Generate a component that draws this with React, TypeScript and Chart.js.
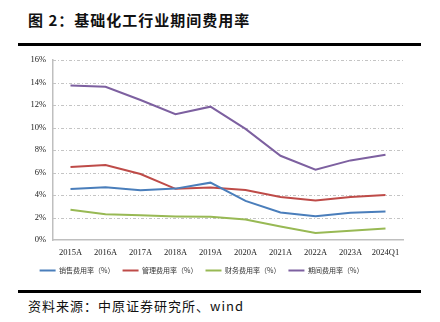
import React, { useEffect, useRef } from "react";
import { Chart, registerables } from "chart.js";

Chart.register(...registerables);

const categories = ["2015A", "2016A", "2017A", "2018A", "2019A", "2020A", "2021A", "2022A", "2023A", "2024Q1"];
const salesRate = [4.54, 4.69, 4.42, 4.57, 5.1, 3.48, 2.45, 2.12, 2.42, 2.54];
const adminRate = [6.49, 6.67, 5.87, 4.55, 4.66, 4.45, 3.83, 3.51, 3.83, 4.01];
const financeRate = [2.68, 2.3, 2.2, 2.1, 2.06, 1.83, 1.21, 0.62, 0.82, 1.03];
const periodRate = [13.74, 13.63, 12.45, 11.18, 11.86, 9.88, 7.49, 6.25, 7.08, 7.58];
const seriesNames = ["销售费用率（%）", "管理费用率（%）", "财务费用率（%）", "期间费用率（%）"];
const seriesColors = ["#4A7EBB", "#BE4B48", "#98B954", "#7D60A0"];

const title = "图 2：基础化工行业期间费用率";
const source = "资料来源：中原证券研究所、wind";

const dashedGrid = {
  id: "dashedGrid",
  beforeDatasetsDraw(chart: any) {
    const { ctx, chartArea, scales } = chart;
    const y = scales.y;
    ctx.save();
    ctx.strokeStyle = "#C4C4C4";
    ctx.lineWidth = 1;
    ctx.setLineDash([3, 2, 1, 2]);
    y.ticks.forEach((t: any) => {
      if (t.value === 0) return;
      const py = Math.round(y.getPixelForValue(t.value)) + 0.5;
      ctx.beginPath();
      ctx.moveTo(chartArea.left, py);
      ctx.lineTo(chartArea.right, py);
      ctx.stroke();
    });
    ctx.restore();
  },
};

export default function App() {
  const ref = useRef<HTMLCanvasElement | null>(null);

  useEffect(() => {
    if (!ref.current) return;
    const data = [salesRate, adminRate, financeRate, periodRate];
    const chart = new Chart(ref.current, {
      type: "line",
      data: {
        labels: categories,
        datasets: data.map((d, i) => ({
          label: seriesNames[i],
          data: d,
          borderColor: seriesColors[i],
          backgroundColor: seriesColors[i],
          borderWidth: 2,
          pointRadius: 0,
          tension: 0,
          fill: false,
        })),
      },
      options: {
        animation: false,
        responsive: false,
        maintainAspectRatio: false,
        layout: { padding: { left: 0, right: 37, top: 11, bottom: 4 } },
        plugins: {
          tooltip: { enabled: false },
          legend: {
            position: "bottom",
            labels: {
              boxWidth: 16,
              boxHeight: 2,
              padding: 8,
              color: "#333",
              font: { family: "'Noto Sans CJK SC', sans-serif", size: 7 },
              generateLabels: (c: any) =>
                c.data.datasets.map((ds: any, i: number) => ({
                  text: ds.label,
                  fillStyle: ds.borderColor,
                  strokeStyle: ds.borderColor,
                  lineWidth: 0,
                  hidden: false,
                  datasetIndex: i,
                  fontColor: "#333",
                })),
            },
          },
        },
        scales: {
          x: {
            offset: true,
            grid: { display: false, drawTicks: false },
            border: { display: true, color: "#BFBFBF", width: 1.5 },
            ticks: {
              color: "#222",
              padding: 8,
              maxRotation: 0,
              autoSkip: false,
              font: { family: "'Liberation Serif', serif", size: 8.5 },
            },
            afterFit: (s: any) => {
              s.height = 19;
            },
          },
          y: {
            min: 0,
            max: 16,
            grid: { display: false, drawTicks: false },
            border: { display: true, color: "#BFBFBF", width: 1.5 },
            ticks: {
              stepSize: 2,
              color: "#222",
              padding: 7,
              font: { family: "'Liberation Serif', serif", size: 8.5 },
              callback: (v: any) => v + "%",
            },
            afterFit: (s: any) => {
              s.width = 53;
            },
          },
        },
      },
      plugins: [dashedGrid],
    });
    return () => chart.destroy();
  }, []);

  return (
    <div style={{ position: "fixed", left: 0, top: 0, width: 440, height: 322, background: "#fff", overflow: "hidden" }}>
      <div
        style={{
          position: "absolute",
          left: 28,
          top: 10,
          fontFamily: "'Noto Sans CJK SC', sans-serif",
          fontWeight: 700,
          fontSize: 15,
          letterSpacing: 1,
          color: "#111",
          lineHeight: "20px",
          whiteSpace: "nowrap",
        }}
      >
        {title}
      </div>
      <div style={{ position: "absolute", left: 18, top: 43, width: 403, height: 3, background: "#000" }} />
      <div style={{ position: "absolute", left: 0, top: 48, width: 440, height: 240 }}>
        <canvas ref={ref} width={440} height={240} style={{ width: 440, height: 240, display: "block" }} />
      </div>
      <div style={{ position: "absolute", left: 18, top: 290, width: 403, height: 3, background: "#000" }} />
      <div
        style={{
          position: "absolute",
          left: 28,
          top: 297,
          fontFamily: "'Noto Sans CJK SC', sans-serif",
          fontSize: 13,
          letterSpacing: 1,
          color: "#111",
          lineHeight: "18px",
          whiteSpace: "nowrap",
        }}
      >
        {source}
      </div>
    </div>
  );
}
